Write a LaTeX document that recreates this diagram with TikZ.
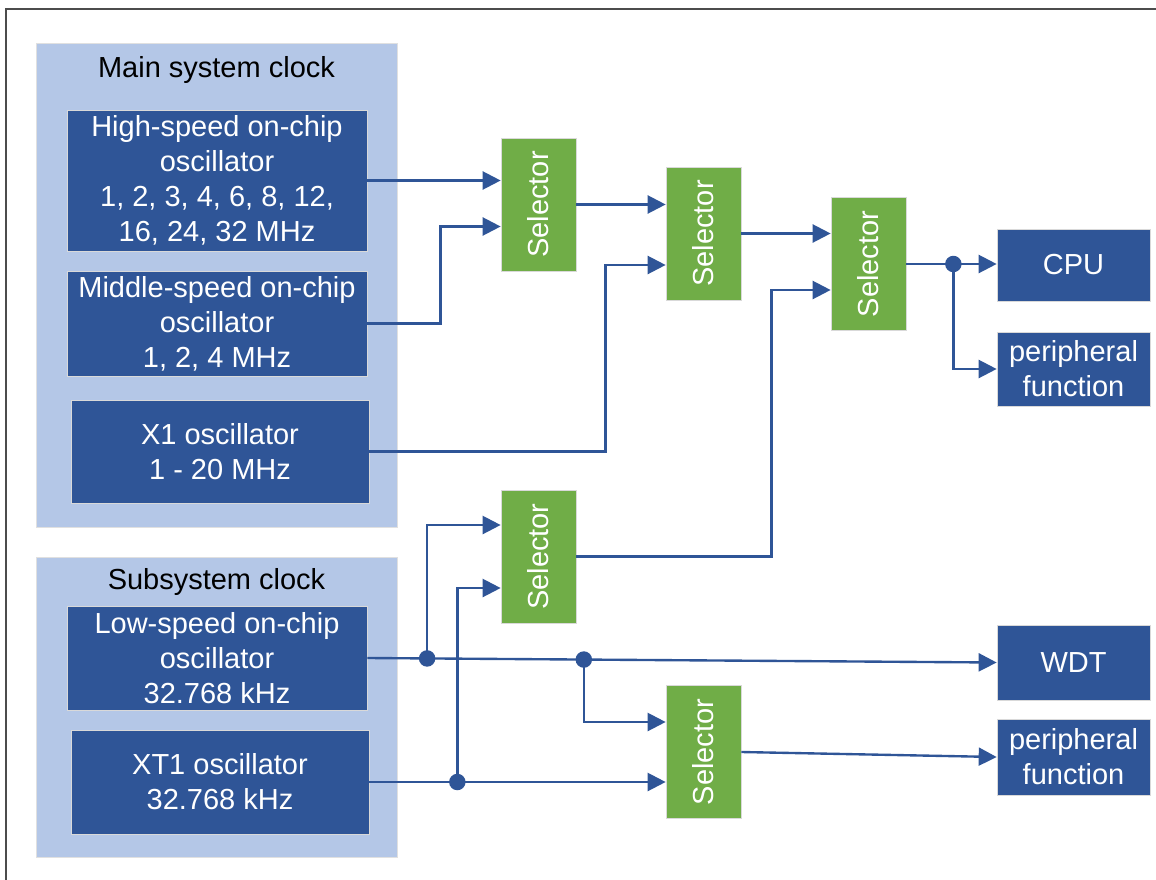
\documentclass[tikz,border=0pt]{standalone}
\usepackage{fontspec}
\setmainfont{Liberation Sans}
\usepackage{tikz}
\usetikzlibrary{positioning, arrows.meta, calc}
\definecolor{oscblue}{HTML}{2F5597}
\definecolor{grpblue}{HTML}{B4C7E7}
\definecolor{selgreen}{HTML}{70AD47}

\begin{document}
\begin{tikzpicture}[
  x=0.02cm, y=-0.02cm,
  font=\fontsize{16.5}{19.9}\selectfont,
  grp/.style={rectangle, draw=black!12, fill=grpblue, minimum width=7.22cm},
  osc/.style={rectangle, draw=black!15, fill=oscblue, text=white, align=center, minimum width=6cm, minimum height=2.08cm, inner sep=1pt},
  sel/.style={rectangle, draw=black!15, fill=selgreen, text=white, minimum width=1.5cm, minimum height=2.66cm, inner sep=0pt},
  dest/.style={rectangle, draw=black!15, fill=oscblue, text=white, align=center, minimum width=3.06cm, minimum height=1.48cm, inner sep=1pt},
  dot/.style={circle, fill=oscblue, inner sep=0pt, minimum size=0.33cm},
  arr/.style={-{Triangle[length=0.36cm, width=0.36cm]}, oscblue, line width=1.35pt}
]
  \useasboundingbox (0,0) rectangle (1156,879);
  \clip (0,0) rectangle (1156,879);
  \draw[black!70, line width=0.8pt] (6,9) rectangle (1200,920);

  % clock sources
  \node[grp, minimum height=9.68cm] (main) at (216.5,285) {};
  \node[grp, minimum height=6cm] (sub) at (216.5,707) {};
  \node (maint) at (216.5,70) {Main system clock};
  \node (subt) at (216.5,582) {Subsystem clock};
  \node[osc, minimum height=2.82cm] (hso) at (217,180.5) {High-speed on-chip\\oscillator\\1, 2, 3, 4, 6, 8, 12,\\16, 24, 32 MHz};
  \node[osc, minimum height=2.1cm] (mso) at (217,323.5) {Middle-speed on-chip\\oscillator\\1, 2, 4 MHz};
  \node[osc, minimum width=5.96cm, minimum height=2.06cm] (xone) at (220,451.5) {X1 oscillator\\1 - 20 MHz};
  \node[osc] (lso) at (217,658) {Low-speed on-chip\\oscillator\\32.768 kHz};
  \node[osc, minimum width=5.96cm] (xtone) at (220,782) {XT1 oscillator\\32.768 kHz};

  % selectors
  \node[sel] (s1) at (538.5,204.5) {\rotatebox{90}{Selector}};
  \node[sel] (s2) at (703.5,233.5) {\rotatebox{90}{Selector}};
  \node[sel] (s3) at (868.5,264) {\rotatebox{90}{Selector}};
  \node[sel] (s4) at (538.5,556.5) {\rotatebox{90}{Selector}};
  \node[sel] (s5) at (703.5,752) {\rotatebox{90}{Selector}};

  % destinations
  \node[dest, minimum height=1.44cm] (cpu) at (1073.5,265) {CPU};
  \node[dest] (per1) at (1073.5,369) {peripheral\\function};
  \node[dest, minimum height=1.5cm] (wdt) at (1073.5,662.5) {WDT};
  \node[dest, minimum height=1.52cm] (per2) at (1073.5,757) {peripheral\\function};

  % junctions
  \node[dot] (j0) at ($(s3.east)+(47,0)$) {};
  \node[dot] (j1) at ($(lso.east)!0.095!(wdt.west)$) {};
  \node[dot] (j2) at ($(lso.east)!0.344!(wdt.west)$) {};
  \node[dot] (j3) at ($(xtone.east)+(88,0)$) {};

  \draw[arr] (hso.east) -- (hso.east -| s1.west);
  \draw[arr] (mso.east) -| ($(s1.west)+(-60,22)$) -- ($(s1.west)+(0,22)$);
  \draw[arr] (s1.east) -- (s1.east -| s2.west);
  \draw[arr] (xone.east) -| ($(s2.west)+(-60,31.5)$) -- ($(s2.west)+(0,31.5)$);
  \draw[arr] (s2.east) -- (s2.east -| s3.west);
  \draw[arr] (s4.east) -| ($(s3.west)+(-59,26)$) -- ($(s3.west)+(0,26)$);
  \draw[arr] (s3.east) -- (s3.east -| cpu.west);
  \draw[arr] (j0.center) |- (per1.west);
  \draw[arr] (lso.east) -- (wdt.west);
  \draw[arr] (j1.center) |- ($(s4.west)+(0,-31.5)$);
  \draw[arr] (j2.center) |- ($(s5.west)+(0,-30)$);
  \draw[arr] (xtone.east) -- (xtone.east -| s5.west);
  \draw[arr] (j3.center) |- ($(s4.west)+(0,31.5)$);
  \draw[arr] (s5.east) -- (per2.west);
\end{tikzpicture}
\end{document}
